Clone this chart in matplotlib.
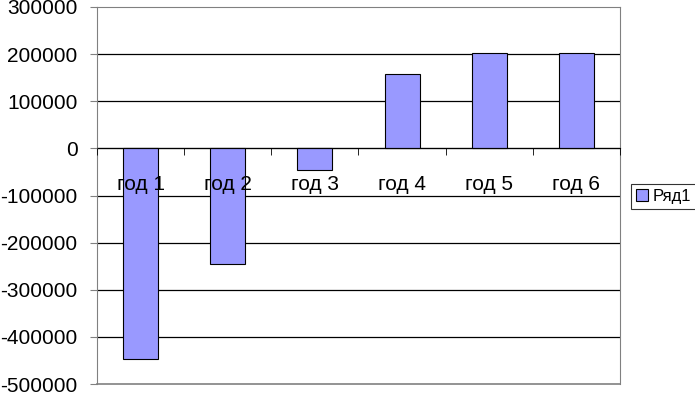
import matplotlib
matplotlib.use('Agg')
import matplotlib.pyplot as plt
import numpy as np

plt.rcParams['font.family'] = ['Liberation Sans', 'DejaVu Sans']
plt.rcParams['axes.unicode_minus'] = False

years = ['год 1', 'год 2', 'год 3', 'год 4', 'год 5', 'год 6']
values = [-448000, -245000, -45000, 157000, 202000, 202000]
series_name = 'Ряд1'

fig = plt.figure(figsize=(6.95, 3.93), dpi=100)
ax = fig.add_axes([97 / 695, 9 / 393, 523 / 695, 377 / 393])

x = np.arange(len(years))
ax.bar(x, values, width=0.4, color='#9999ff', edgecolor='black', linewidth=0.8,
       label=series_name, zorder=2)

ax.set_xlim(-0.5, len(years) - 0.5)
ax.set_ylim(-500000, 300000)
yticks = np.arange(-500000, 300001, 100000)
ax.set_yticks(yticks)
# gridlines under the bars, axis labels over them
for t in yticks[1:-1]:
    ax.axhline(t, color='black', linewidth=0.9, zorder=0)
ax.set_axisbelow(False)

ax.set_xticks(x)
ax.set_xticklabels(years)
ax.set_xticks(np.arange(-0.5, len(years), 1.0), minor=True)
ax.tick_params(axis='x', which='major', length=0, pad=19, labelsize=15)
ax.tick_params(axis='x', which='minor', length=5, direction='out', color='black')
ax.tick_params(axis='y', length=5, direction='out', color='#808080', labelsize=15, pad=9)

ax.spines['bottom'].set_position(('data', 0))
ax.spines['bottom'].set_color('black')
for s in ['left', 'top', 'right']:
    ax.spines[s].set_color('#808080')
ax.axhline(-500000, color='#808080', linewidth=1.2, zorder=3, clip_on=False)

leg = fig.legend(loc='center left', bbox_to_anchor=(631 / 695, 1 - 196 / 393),
                 fontsize=12, frameon=True, fancybox=False, handlelength=0.7,
                 handleheight=0.7, handletextpad=0.3, borderpad=0.3, borderaxespad=0)
leg.get_frame().set_edgecolor('black')
leg.get_frame().set_linewidth(0.8)

fig.savefig('out.png', dpi=100)
